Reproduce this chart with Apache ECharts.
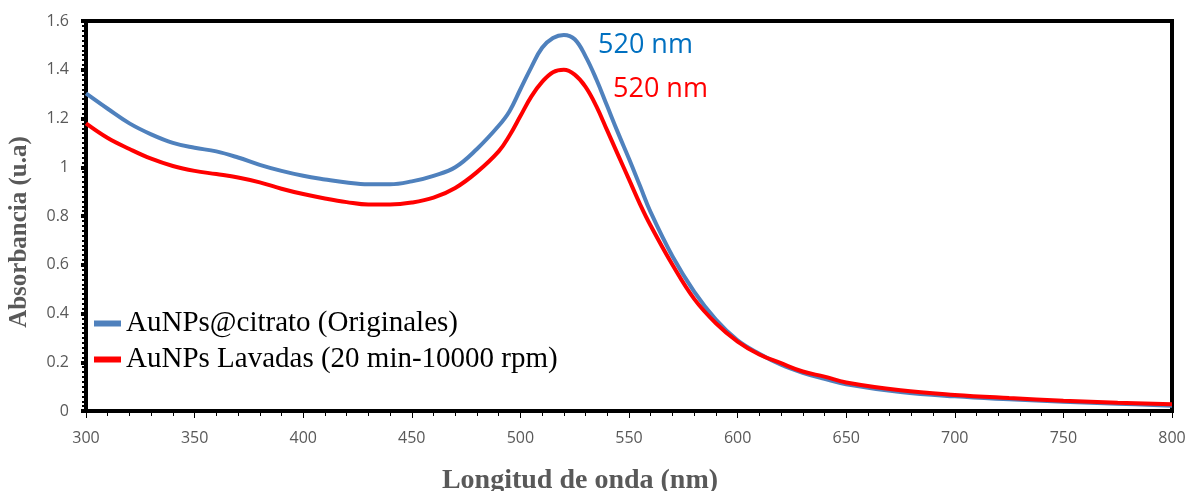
<!DOCTYPE html>
<html>
<head>
<meta charset="utf-8">
<script src="https://cdn.jsdelivr.net/npm/echarts@6/dist/echarts.min.js"></script>
<style>html,body{margin:0;padding:0;background:#fff}#c{width:1188px;height:491px}</style>
</head>
<body>
<div id="c"></div>
<script>
const wavelengths = [300,310,320,330,340,350,360,370,380,390,400,410,420,430,440,450,460,470,480,490,495,500,505,510,515,520,525,530,535,540,545,550,555,560,570,580,590,600,610,620,630,640,650,675,700,725,750,775,800];
const citrato = [1.303,1.24,1.18,1.135,1.10,1.08,1.065,1.04,1.01,0.985,0.965,0.95,0.937,0.93,0.93,0.942,0.965,1.00,1.075,1.17,1.23,1.32,1.41,1.49,1.53,1.543,1.525,1.455,1.36,1.25,1.14,1.035,0.925,0.815,0.635,0.49,0.375,0.29,0.235,0.19,0.157,0.132,0.11,0.078,0.06,0.048,0.038,0.03,0.022];
const lavadas = [1.18,1.12,1.075,1.035,1.005,0.985,0.972,0.958,0.938,0.912,0.89,0.872,0.857,0.847,0.847,0.855,0.875,0.915,0.98,1.065,1.13,1.21,1.29,1.35,1.39,1.40,1.38,1.33,1.25,1.15,1.05,0.95,0.85,0.76,0.60,0.46,0.36,0.285,0.232,0.196,0.162,0.141,0.117,0.085,0.066,0.053,0.042,0.034,0.028];
const seriesNames = ['AuNPs@citrato (Originales)','AuNPs Lavadas (20 min-10000 rpm)'];
const peakLabels = ['520 nm','520 nm'];

const chart = echarts.init(document.getElementById('c'));
const tickFont = {color:'#595959', fontSize:16, fontFamily:'Open Sans'};
chart.setOption({
  animation:false,
  grid:{left:86,right:16,top:21,bottom:80,show:true,borderColor:'#000',borderWidth:4,containLabel:false,outerBoundsMode:'none'},
  legend:{
    orient:'vertical', left:94, top:309, itemGap:7, padding:0,
    icon:'rect', itemWidth:27, itemHeight:6,
    textStyle:{fontFamily:'Liberation Serif', fontSize:29, color:'#000'},
    data:seriesNames
  },
  xAxis:{
    type:'value', min:300, max:800, interval:50,
    name:'Longitud de onda (nm)', nameLocation:'middle', nameGap:56,
    nameTextStyle:{fontFamily:'Liberation Serif', fontWeight:'bold', fontSize:28, color:'#595959', padding:[0,98,0,0]},
    axisLine:{show:true, lineStyle:{color:'#000', width:4}},
    axisTick:{show:true, length:7, lineStyle:{color:'#000', width:1}},
    minorTick:{show:true, splitNumber:5, length:5, lineStyle:{color:'#000', width:1}},
    axisLabel:Object.assign({margin:19}, tickFont),
    splitLine:{show:false}
  },
  yAxis:{
    type:'value', min:0, max:1.6, interval:0.2,
    name:'Absorbancia (u.a)', nameLocation:'middle', nameGap:54,
    nameTextStyle:{fontFamily:'Liberation Serif', fontWeight:'bold', fontSize:25, color:'#595959', padding:[0,32,0,0]},
    axisLine:{show:true, lineStyle:{color:'#000', width:4}},
    axisTick:{show:true, length:5, lineStyle:{color:'#000', width:4}},
    minorTick:{show:true, splitNumber:10, length:4, lineStyle:{color:'#000', width:2}},
    axisLabel:Object.assign({margin:17, formatter:function(v){return String(Math.round(v*10)/10);}}, tickFont),
    splitLine:{show:false}
  },
  series:[
    {name:seriesNames[0], type:'line', smooth:0.4, showSymbol:false,
     data:wavelengths.map((w,i)=>[w,citrato[i]]),
     lineStyle:{color:'#4F81BD', width:4}, itemStyle:{color:'#4F81BD'}},
    {name:seriesNames[1], type:'line', smooth:0.4, showSymbol:false,
     data:wavelengths.map((w,i)=>[w,lavadas[i]]),
     lineStyle:{color:'#FF0000', width:4}, itemStyle:{color:'#FF0000'}}
  ],
  graphic:[
    {type:'text', left:598, top:32, style:{text:peakLabels[0], fill:'#0070C0', font:'27px "Open Sans"'}},
    {type:'text', left:613, top:76, style:{text:peakLabels[1], fill:'#FF0000', font:'27px "Open Sans"'}}
  ]
});
</script>
</body>
</html>
